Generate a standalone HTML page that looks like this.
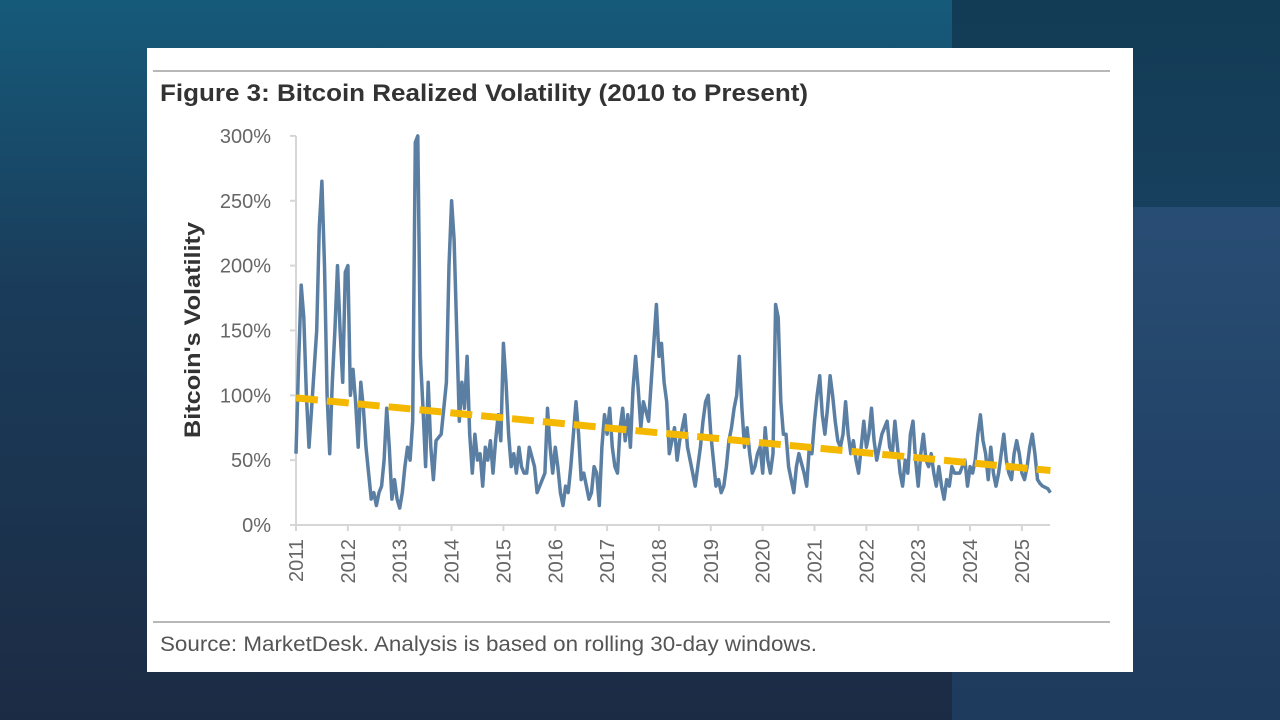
<!DOCTYPE html>
<html><head><meta charset="utf-8"><style>
html,body{margin:0;padding:0;width:1280px;height:720px;overflow:hidden;}
body{background:linear-gradient(180deg,#165a7a 0%,#1a3c5a 40%,#1c2b44 100%);position:relative;font-family:"Liberation Sans",sans-serif;}
.rt{position:absolute;left:952px;top:0;width:328px;height:207px;background:linear-gradient(180deg,#123b55,#17405e);}
.rb{position:absolute;left:952px;top:207px;width:328px;height:513px;background:linear-gradient(180deg,#284d74,#1e3a5c);}
.card{position:absolute;left:147px;top:48px;width:986px;height:624px;background:#fff;}
</style></head><body>
<div class="rt"></div>
<div class="rb"></div>
<div class="card"></div>
<svg id="chart" width="1280" height="720" style="position:absolute;left:0;top:0">
<line x1="153" y1="71" x2="1110" y2="71" stroke="#b8b8b8" stroke-width="2"/>
<text x="160" y="101" font-size="24" font-weight="bold" fill="#333" textLength="648" lengthAdjust="spacingAndGlyphs">Figure 3: Bitcoin Realized Volatility (2010 to Present)</text>
<text transform="translate(200,330) rotate(-90)" text-anchor="middle" font-size="22" font-weight="bold" fill="#333" textLength="216" lengthAdjust="spacingAndGlyphs">Bitcoin's Volatility</text>
<line x1="153" y1="622" x2="1110" y2="622" stroke="#b8b8b8" stroke-width="2"/>
<text x="160" y="651" font-size="21" fill="#555" textLength="657" lengthAdjust="spacingAndGlyphs">Source: MarketDesk. Analysis is based on rolling 30-day windows.</text>
<g id="axes"></g><g id="series"></g>
</svg>
<script>
const yTicks=[0,50,100,150,200,250,300];
const xYears=[2011,2012,2013,2014,2015,2016,2017,2018,2019,2020,2021,2022,2023,2024,2025];
const trendYears=[2011,2025.55];
const trendValues=[98,42];
const dates=[2011.0,2011.05,2011.1,2011.15,2011.2,2011.25,2011.3,2011.4,2011.45,2011.5,2011.55,2011.6,2011.65,2011.7,2011.75,2011.8,2011.85,2011.9,2011.95,2012.0,2012.05,2012.1,2012.15,2012.2,2012.25,2012.3,2012.35,2012.4,2012.45,2012.5,2012.55,2012.6,2012.65,2012.7,2012.75,2012.8,2012.85,2012.9,2012.95,2013.0,2013.05,2013.1,2013.15,2013.2,2013.25,2013.3,2013.35,2013.4,2013.45,2013.5,2013.55,2013.6,2013.65,2013.7,2013.8,2013.9,2013.95,2014.0,2014.05,2014.1,2014.15,2014.2,2014.25,2014.3,2014.35,2014.4,2014.45,2014.5,2014.55,2014.6,2014.65,2014.7,2014.75,2014.8,2014.85,2014.9,2014.95,2015.0,2015.05,2015.1,2015.15,2015.2,2015.25,2015.3,2015.35,2015.4,2015.45,2015.5,2015.6,2015.65,2015.7,2015.8,2015.85,2015.9,2015.95,2016.0,2016.05,2016.1,2016.15,2016.2,2016.25,2016.3,2016.4,2016.45,2016.5,2016.55,2016.6,2016.65,2016.7,2016.75,2016.8,2016.85,2016.9,2016.95,2017.0,2017.05,2017.1,2017.15,2017.2,2017.25,2017.3,2017.35,2017.4,2017.45,2017.5,2017.55,2017.6,2017.65,2017.7,2017.8,2017.85,2017.9,2017.95,2018.0,2018.05,2018.1,2018.15,2018.2,2018.3,2018.35,2018.4,2018.5,2018.55,2018.6,2018.65,2018.7,2018.8,2018.85,2018.9,2018.95,2019.0,2019.05,2019.1,2019.15,2019.2,2019.25,2019.3,2019.35,2019.4,2019.45,2019.5,2019.55,2019.6,2019.65,2019.7,2019.75,2019.8,2019.85,2019.9,2019.95,2020.0,2020.05,2020.1,2020.15,2020.2,2020.25,2020.3,2020.35,2020.4,2020.45,2020.5,2020.55,2020.6,2020.65,2020.7,2020.8,2020.85,2020.9,2020.95,2021.0,2021.05,2021.1,2021.15,2021.2,2021.25,2021.3,2021.35,2021.4,2021.45,2021.5,2021.55,2021.6,2021.65,2021.7,2021.75,2021.8,2021.85,2021.9,2021.95,2022.0,2022.05,2022.1,2022.15,2022.2,2022.3,2022.4,2022.45,2022.5,2022.55,2022.6,2022.65,2022.7,2022.75,2022.8,2022.85,2022.9,2022.95,2023.0,2023.05,2023.1,2023.15,2023.2,2023.25,2023.3,2023.35,2023.4,2023.45,2023.5,2023.55,2023.6,2023.65,2023.7,2023.8,2023.85,2023.9,2023.95,2024.0,2024.05,2024.1,2024.15,2024.2,2024.25,2024.3,2024.35,2024.4,2024.45,2024.5,2024.55,2024.6,2024.65,2024.7,2024.75,2024.8,2024.85,2024.9,2024.95,2025.0,2025.05,2025.1,2025.15,2025.2,2025.25,2025.3,2025.35,2025.4,2025.5,2025.55];
const vols=[55,125,185,160,100,60,90,150,230,265,200,100,55,110,150,200,150,110,195,200,100,120,95,60,110,90,60,40,20,25,15,25,30,50,90,60,20,35,20,13,25,45,60,50,80,295,300,130,90,45,110,60,35,65,70,110,200,250,220,150,80,110,90,130,70,40,70,50,55,30,60,50,65,40,65,85,65,140,110,70,45,55,40,60,45,40,40,60,45,25,30,40,90,60,40,60,45,25,15,30,25,45,95,70,35,40,30,20,25,45,40,15,60,85,70,90,60,45,40,75,90,65,85,60,105,130,105,75,95,80,110,140,170,130,140,110,95,55,75,50,65,85,60,50,40,30,60,80,95,100,70,50,30,35,25,30,45,65,75,90,100,130,90,60,75,55,40,45,55,60,40,75,50,40,55,170,160,95,70,70,45,35,25,45,55,40,30,60,55,80,100,115,85,70,90,115,100,80,65,60,70,95,70,55,65,50,40,60,80,60,70,90,65,50,70,80,60,55,80,60,40,30,50,40,70,80,50,30,55,70,50,45,55,40,30,45,30,20,35,30,45,40,40,45,50,30,45,40,50,70,85,65,55,35,60,40,30,40,55,70,50,40,35,55,65,55,40,35,45,60,70,55,35,32,30,28,25];
const NS='http://www.w3.org/2000/svg';
const X0=296,PX=51.85,Y0=525,PY=1.297;
const xs=d=>X0+(d-2011)*PX;
const ys=v=>Y0-v*PY;
function mk(tag,attrs,parent){const e=document.createElementNS(NS,tag);for(const k in attrs)e.setAttribute(k,attrs[k]);parent.appendChild(e);return e;}
const ax=document.getElementById('axes'),se=document.getElementById('series');
let e=mk('line',{x1:X0,y1:ys(300),x2:X0,y2:Y0,stroke:'#d6d6d6','stroke-width':2},ax);


e=mk('line',{x1:X0,y1:Y0,x2:1050,y2:Y0,stroke:'#d6d6d6','stroke-width':2},ax);


yTicks.forEach(t=>{
 mk('line',{x1:X0-6,y1:ys(t),x2:X0,y2:ys(t),stroke:'#d6d6d6','stroke-width':2},ax);
 const l=mk('text',{x:271,y:ys(t)+7,'text-anchor':'end','font-size':20,fill:'#666'},ax);
 l.textContent=t+'%';
 
 
});
xYears.forEach(y=>{
 mk('line',{x1:xs(y),y1:Y0,x2:xs(y),y2:Y0+6,stroke:'#d6d6d6','stroke-width':2},ax);
 const l=mk('text',{transform:`translate(${xs(y)+7},${Y0+14}) rotate(-90)`,'text-anchor':'end','font-size':20,fill:'#666'},ax);
 l.textContent=y;
 
 
});
const p=mk('polyline',{points:dates.map((d,i)=>xs(d).toFixed(1)+','+ys(vols[i]).toFixed(1)).join(' '),fill:'none',stroke:'#5b7fa3','stroke-width':3.5,'stroke-linejoin':'round'},se);


const t=mk('line',{x1:xs(trendYears[0]),y1:ys(trendValues[0]),x2:xs(trendYears[1]),y2:ys(trendValues[1]),stroke:'#f5b800','stroke-width':7,'stroke-dasharray':'22 9'},se);


</script>
</body></html>
